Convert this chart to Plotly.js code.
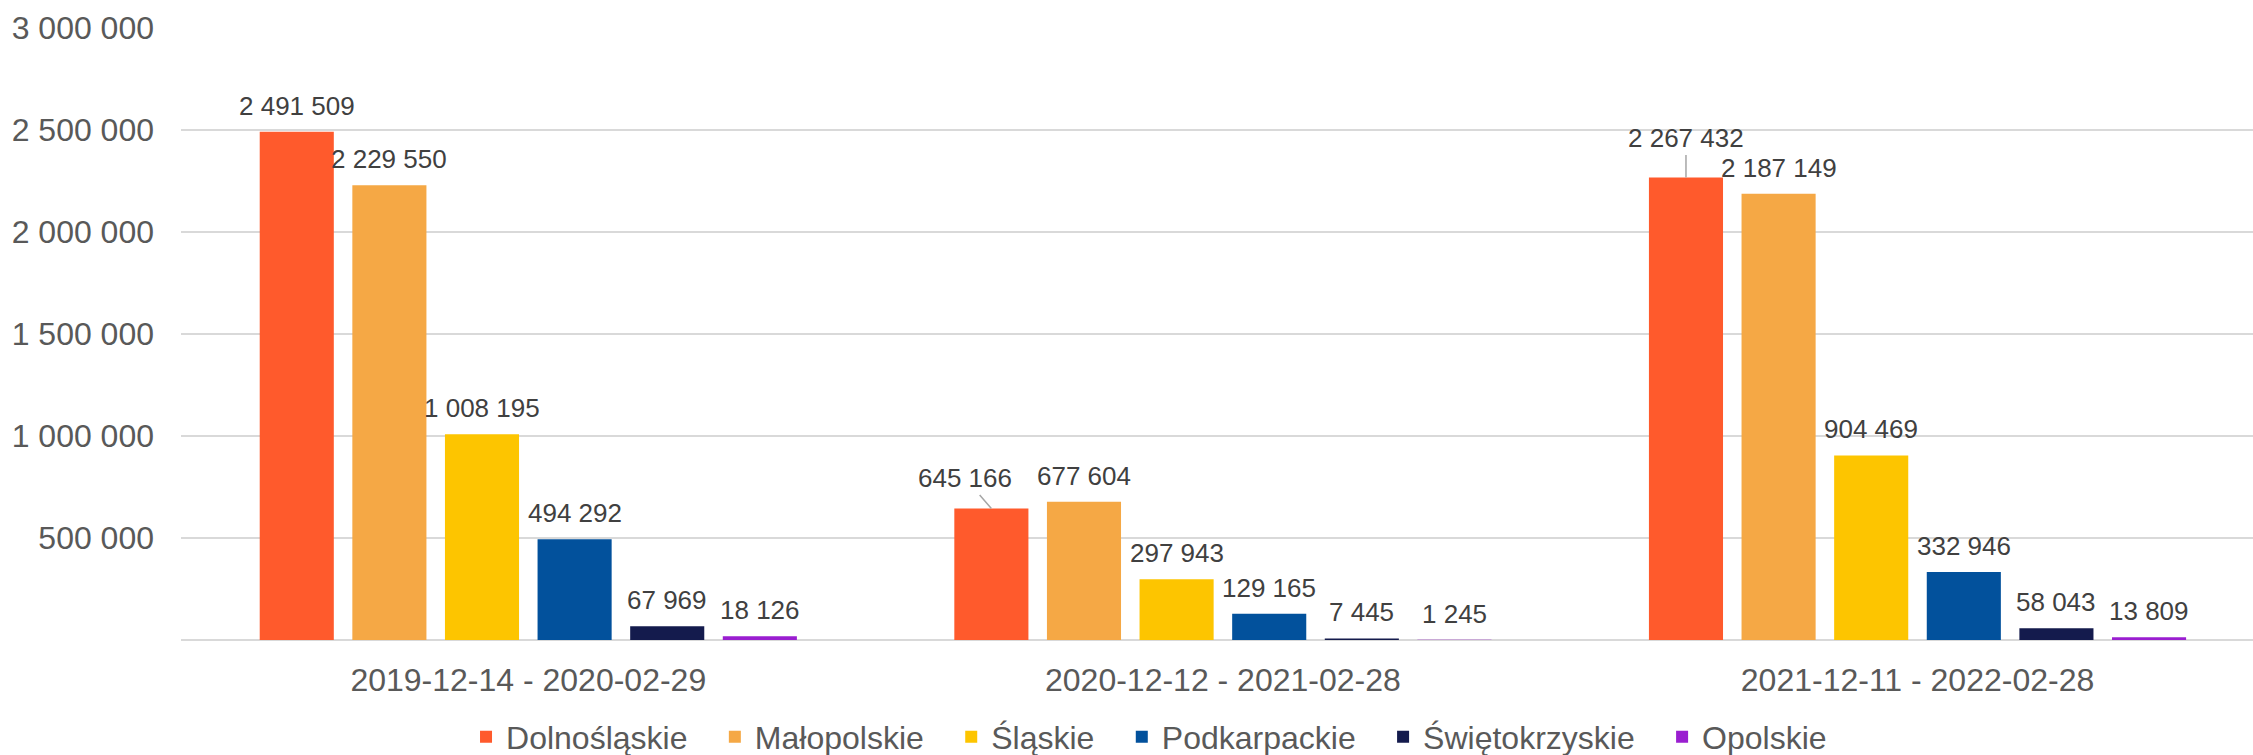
<!DOCTYPE html>
<html>
<head>
<meta charset="utf-8">
<script src="https://cdn.plot.ly/plotly-3.0.1.min.js"></script>
<style>html,body{margin:0;padding:0;background:#fff;overflow:hidden;}#chart{width:2253px;height:755px;}</style>
</head>
<body>
<div id="chart"></div>
<script>
const categories = ["2019-12-14 - 2020-02-29", "2020-12-12 - 2021-02-28", "2021-12-11 - 2022-02-28"];
const seriesNames = ["Dolnośląskie", "Małopolskie", "Śląskie", "Podkarpackie", "Świętokrzyskie", "Opolskie"];
const dolnoslaskie = [2491509, 645166, 2267432];
const malopolskie = [2229550, 677604, 2187149];
const slaskie = [1008195, 297943, 904469];
const podkarpackie = [494292, 129165, 332946];
const swietokrzyskie = [67969, 7445, 58043];
const opolskie = [18126, 1245, 13809];
const yTickVals = [500000, 1000000, 1500000, 2000000, 2500000, 3000000];
const seriesColors = ["#FF5A2C", "#F5A845", "#FDC500", "#02519C", "#141B4D", "#9A1ED0"];
// labels that the reference moves away from their bar with a leader line: [series, category, dx, dy]
const leaderLabels = [[0, 1, -26, -30], [0, 2, 0, -39]];

const seriesValues = [dolnoslaskie, malopolskie, slaskie, podkarpackie, swietokrzyskie, opolskie];
const fmt = v => String(v).replace(/\B(?=(\d{3})+(?!\d))/g, ' ');

const traces = seriesValues.map((vals, i) => ({
  type: 'bar',
  name: seriesNames[i] + '\u2002\u2009',
  x: categories,
  y: vals,
  marker: {color: seriesColors[i]},
  hoverinfo: 'x+y+name'
}));

const W = 2253, H = 755, ML = 181, MR = 0, MT = 28, MB = 115;
const xRange = [-0.5, 2.483];
const bargap = 0.2;
const nSeries = seriesValues.length;
const catPx = (W - ML - MR) / (xRange[1] - xRange[0]);
const slotPx = catPx * (1 - bargap) / nSeries;

const annotations = [];
seriesValues.forEach((vals, i) => {
  vals.forEach((v, c) => {
    const lead = leaderLabels.find(l => l[0] === i && l[1] === c);
    const base = {
      x: categories[c], y: v, xref: 'x', yref: 'y',
      text: fmt(v),
      xshift: (i - (nSeries - 1) / 2) * slotPx,
      font: {family: 'Liberation Sans, Arial, sans-serif', size: 26, color: '#404040'}
    };
    if (lead) {
      annotations.push(Object.assign(base, {
        showarrow: true, arrowhead: 0, arrowwidth: 1.5, arrowcolor: '#A6A6A6',
        ax: lead[2], ay: lead[3], standoff: 0
      }));
    } else {
      annotations.push(Object.assign(base, {
        showarrow: false, yanchor: 'bottom', yshift: 9
      }));
    }
  });
});

const layout = {
  width: W, height: H,
  margin: {l: ML, r: MR, t: MT, b: MB},
  paper_bgcolor: '#ffffff', plot_bgcolor: '#ffffff',
  separators: ', ',
  barmode: 'group',
  bargap: bargap,
  bargroupgap: 0.2,
  font: {family: 'Liberation Sans, Arial, sans-serif', size: 32, color: '#595959'},
  xaxis: {
    type: 'category',
    range: xRange,
    showgrid: false,
    showline: false,
    zeroline: false,
    ticks: '',
    ticklabelstandoff: 18,
    tickfont: {size: 32, color: '#595959'}
  },
  yaxis: {
    range: [0, 3000000],
    tickvals: yTickVals,
    tickformat: ',d',
    showgrid: true,
    gridcolor: '#D9D9D9',
    gridwidth: 2,
    zeroline: true,
    zerolinecolor: '#D9D9D9',
    zerolinewidth: 2,
    showline: false,
    ticks: '',
    ticklabelstandoff: 26,
    tickfont: {size: 32, color: '#595959'}
  },
  legend: {
    orientation: 'h',
    xref: 'paper', x: 0.4725, xanchor: 'center',
    yref: 'container', y: 0.024, yanchor: 'middle',
    font: {size: 32, color: '#595959'},
    traceorder: 'normal'
  },
  annotations: annotations,
  showlegend: true
};

Plotly.newPlot('chart', traces, layout, {displayModeBar: false, staticPlot: true});
</script>
</body>
</html>
